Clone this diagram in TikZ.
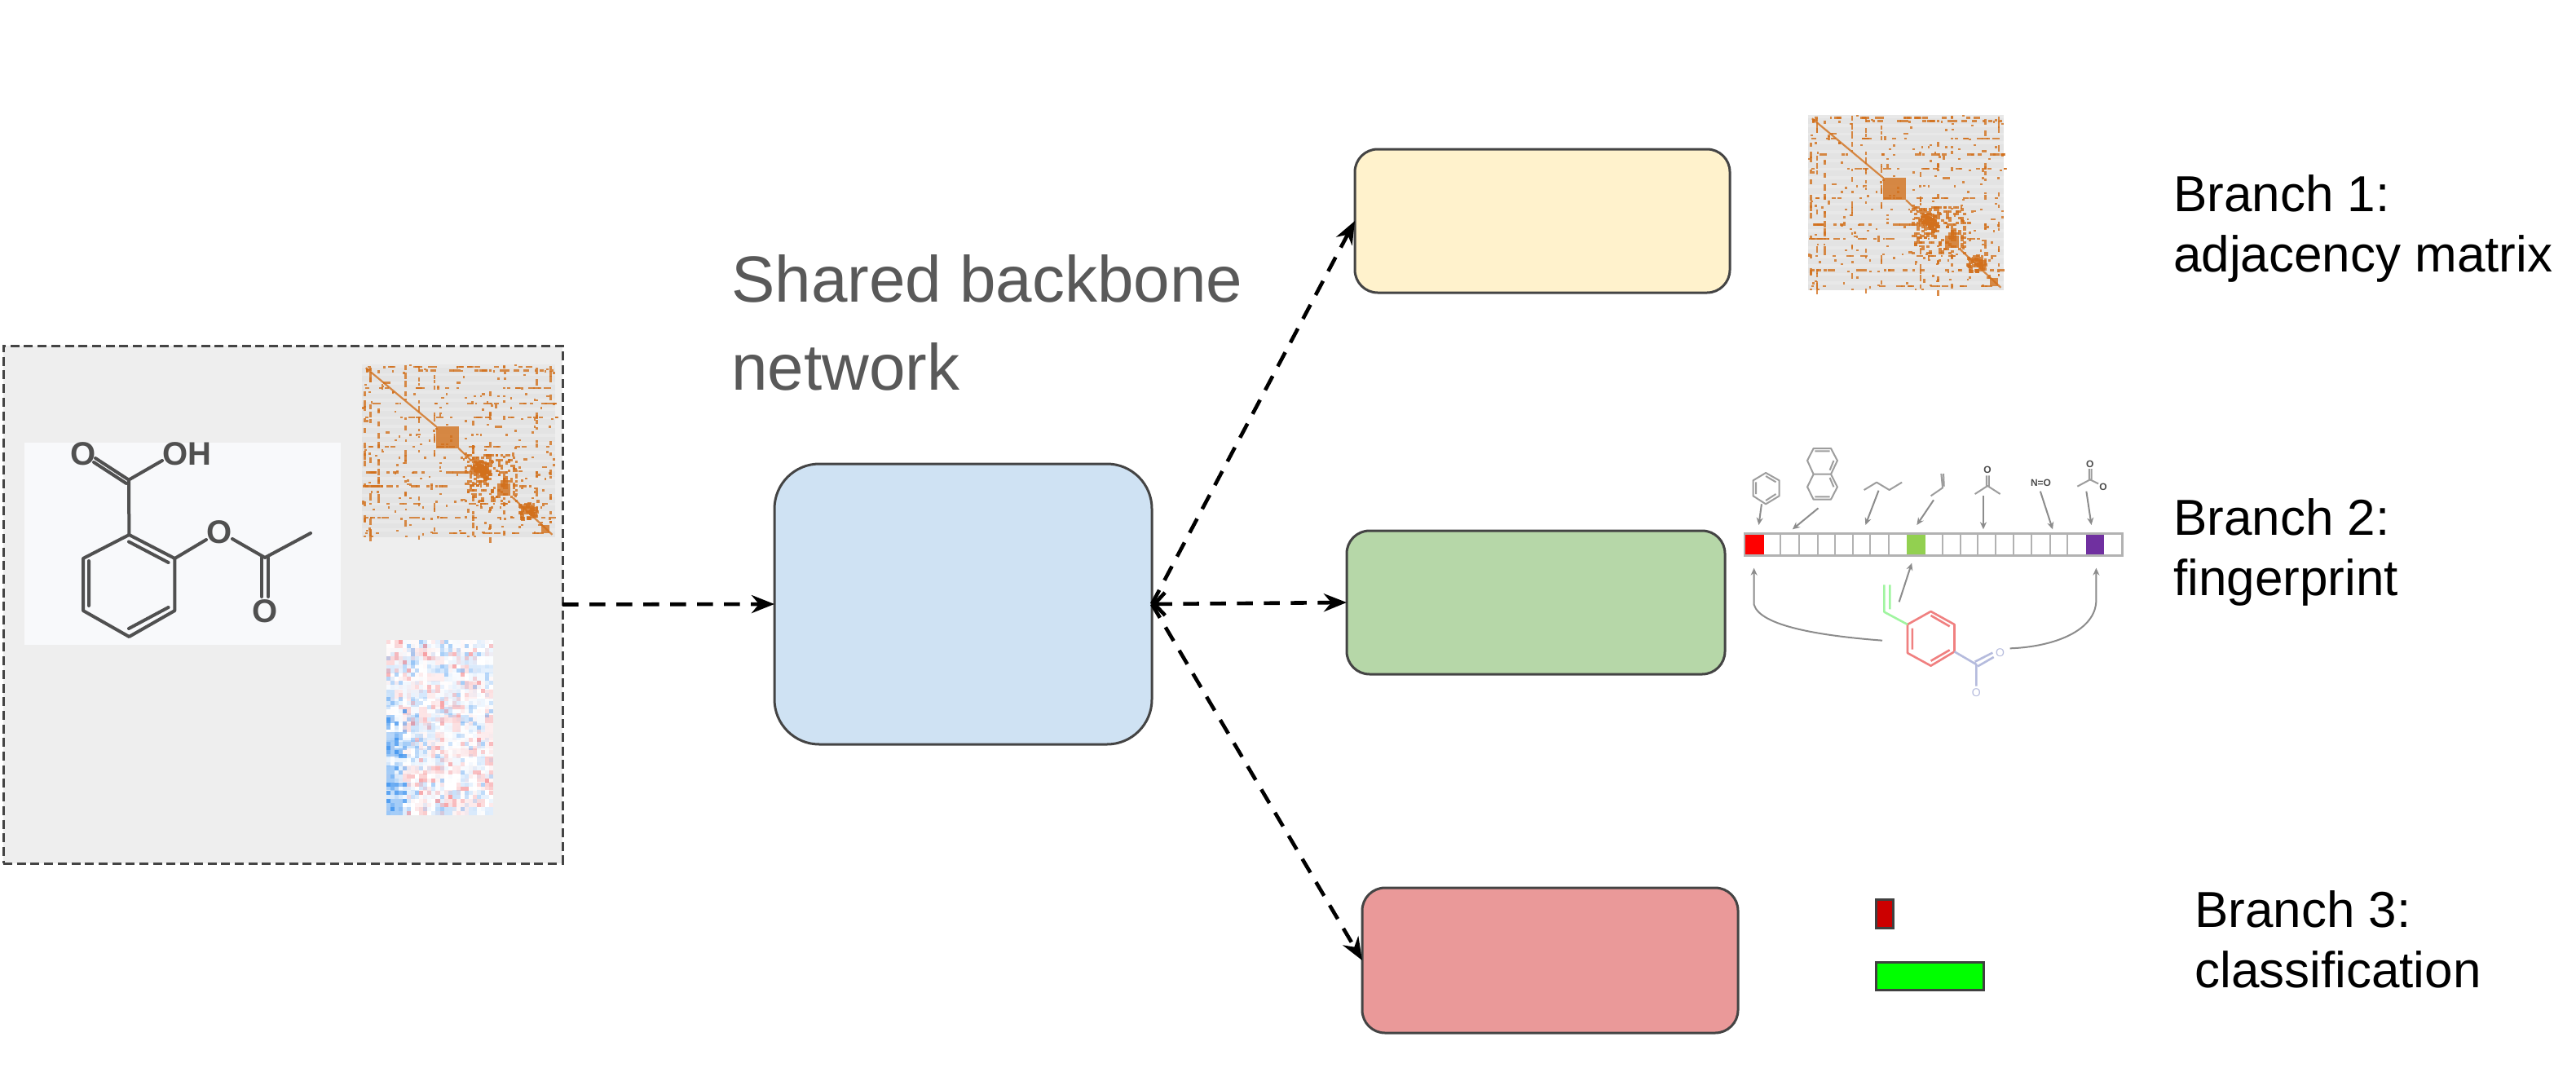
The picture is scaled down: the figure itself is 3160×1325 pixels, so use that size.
\documentclass[tikz,border=0pt]{standalone}
\usepackage{fontspec}
\setmainfont{Liberation Sans}
\usetikzlibrary{arrows.meta}
\definecolor{hred}{HTML}{EE3038}
\definecolor{hblue}{HTML}{2A88EE}
\definecolor{mato}{HTML}{D2701C}
\definecolor{ink}{HTML}{505050}
\definecolor{edge}{HTML}{444444}
\definecolor{fpg}{HTML}{8C8C8C}
\definecolor{bblue}{HTML}{CFE2F3}
\definecolor{byellow}{HTML}{FFF2CC}
\definecolor{bgreen}{HTML}{B6D7A8}
\definecolor{bred}{HTML}{EA9999}
\definecolor{labgrey}{HTML}{595959}
\definecolor{cred}{HTML}{CC0000}
\definecolor{cgreen}{HTML}{00FF00}
\definecolor{fpgreen}{HTML}{92D050}
\definecolor{fppurple}{HTML}{7030A0}
\definecolor{molred}{HTML}{F08080}
\definecolor{molgreen}{HTML}{A0F5A0}
\definecolor{molblue}{HTML}{B5BBDD}
\definecolor{panelw}{HTML}{F8F9FB}
\definecolor{panelg}{HTML}{EEEEEE}
\tikzset{
  mainbox/.style={draw=edge,line width=3pt,minimum width=#1,inner sep=0pt,outer sep=0pt},
  bigflow/.style={draw=black,line width=4.6pt,dash pattern=on 19.5pt off 13.5pt,-{Stealth[length=28pt,width=22pt,inset=9pt]}},
  atomlabel/.style={text=ink,font=\bfseries\fontsize{40}{40}\selectfont,inner sep=0pt},
  bondline/.style={draw=ink,line width=4pt,line cap=round,line join=round},
  branchlabel/.style={anchor=west,align=left,inner sep=0pt,font=\fontsize{62}{74}\selectfont},
  fparrow/.style={draw=fpg,line width=2pt,-{Stealth[length=9pt,width=8pt]}},
  fpglyph/.style={draw=fpg!85,line width=2pt,line join=round},
  fpatom/.style={inner sep=0pt,font=\bfseries\fontsize{12}{12}\selectfont},
  classbar/.style={draw=black!75,line width=3pt,inner sep=0pt,outer sep=0pt},
}
\newcommand{\adjmatrix}[4]{%
  \begin{scope}[shift={(#1,#2)},x=#3pt,y=-#4pt]
    \fill[black!11] (0,0) rectangle (1,1);
    \foreach \sy in {0,0.05,...,0.96}{\fill[white,opacity=.18] (0,\sy) rectangle (1,\sy+0.018);}
    \pgfmathsetseed{73}
    \begin{scope}[mato,opacity=.8]
      \foreach \ii in {1,...,120}{
        \pgfmathsetmacro\ax{floor(rnd*90)/90}
        \pgfmathsetmacro\ay{floor(rnd*90)/90}
        \fill (\ax,\ay) rectangle ++(.013,.011);
        \fill (\ay,\ax) rectangle ++(.011,.013);
      }
      % dense rows and columns
      \foreach \rowy in {.01,.03,.13,.22,.30,.47,.62,.70,.80,.88,.97}{
        \foreach \ii in {1,...,16}{
          \pgfmathsetmacro\ax{rnd}
          \pgfmathsetmacro\aw{.01+.03*rnd}
          \fill (\ax,\rowy) rectangle ++(\aw,.011);
        }
      }
      \foreach \colx in {.01,.04,.08,.22,.29,.37,.57,.66,.73,.90,.97}{
        \foreach \ii in {1,...,14}{
          \pgfmathsetmacro\ay{rnd}
          \pgfmathsetmacro\ah{.01+.03*rnd}
          \fill (\colx,\ay) rectangle ++(.011,\ah);
        }
      }
      % clusters
      \foreach \ii in {1,...,170}{
        \pgfmathsetmacro\ax{.53+floor(rnd*22)/80}
        \pgfmathsetmacro\ay{.52+floor(rnd*22)/80}
        \fill (\ax,\ay) rectangle ++(.014,.014);
      }
      \foreach \ii in {1,...,60}{
        \pgfmathsetmacro\ax{.55+(rnd+rnd)*.06}
        \pgfmathsetmacro\ay{.54+(rnd+rnd)*.06}
        \fill (\ax,\ay) rectangle ++(.02,.02);
      }
      \foreach \ii in {1,...,40}{
        \pgfmathsetmacro\ax{.79+(rnd+rnd)*.06}
        \pgfmathsetmacro\ay{.78+(rnd+rnd)*.06}
        \fill (\ax,\ay) rectangle ++(.02,.02);
      }
      \fill (.385,.36) rectangle (.50,.485);
      \fill (.70,.69) rectangle (.77,.76);
      \fill (.93,.93) rectangle (.97,.975);
      \draw[line width=2.2pt] (.02,.02) -- (.385,.36) (.5,.485) -- (.56,.55) (.78,.77) -- (.985,.985);
    \end{scope}
  \end{scope}}
\begin{document}
\begin{tikzpicture}[x=1pt,y=-1pt]
\useasboundingbox (0,0) rectangle (3160,1325);
\fill[white] (0,0) rectangle (3160,1325);

% input panel
\node[draw=edge,fill=panelg,line width=3pt,dash pattern=on 11pt off 5.7pt,minimum width=686pt,minimum height=635pt,inner sep=0pt,outer sep=0pt] (input) at (347,741.5) {};
\fill[panelw] (30,543) rectangle (418,791);

% molecule
\node[atomlabel] (oa) at (101.7,557) {O};
\node[atomlabel,anchor=west] (ob) at (199,557) {OH};
\node[atomlabel] (oc) at (269.5,653) {O};
\node[atomlabel] (od) at (325,750) {O};
\draw[bondline] (117,562) -- (157,588) (115,567) -- (155,593);
\draw[bondline] (199,565) -- (158,588.6) -- (158.4,656);
\draw[bondline] (158.4,656) -- (214.4,685) -- (214.4,749) -- (158.4,781) -- (102,749) -- (102,685) -- cycle;
\draw[bondline] (158,664.5) -- (206.6,690) (109,688) -- (109,743) (158,771) -- (206.6,745);
\draw[bondline] (214.4,685) -- (253,662) (285,661) -- (325,684) -- (381,654);
\draw[bondline] (321,684) -- (321,732) (329,684) -- (329,732);

\adjmatrix{444}{447}{237}{212}

% heat map
\begin{scope}
  \pgfmathsetseed{11}
  \fill[white] (474,785) rectangle (605,1000);
  \foreach \rr in {0,...,20}{\foreach \cc in {0,...,12}{
    \pgfmathsetmacro\hv{(2*rnd-1)+((\cc<2 && \rr>8) ? -1.0 : 0)}
    \pgfmathtruncatemacro\hp{min(42,24*abs(\hv)^2)}
    \ifdim\hv pt>0pt \def\hc{hred}\else\def\hc{hblue}\fi
    \fill[\hc!\hp!white] ({474+\cc*10.08},{785+\rr*10.24}) rectangle ++(10.08,10.24);
  }}
  \foreach \rr in {0,...,42}{\foreach \cc in {0,...,25}{
    \pgfmathsetmacro\hv{(2*rnd-1)+((\cc<5 && \rr>16) ? -0.45 : 0)}
    \pgfmathsetmacro\hp{min(.7,.4*abs(\hv)^4)}
    \ifdim\hv pt>0pt \def\hc{hred}\else\def\hc{hblue}\fi
    \fill[\hc,opacity=\hp] ({474+\cc*5.04},{785+\rr*5}) rectangle ++(5.04,5);
  }}
\end{scope}

% main boxes
\node[mainbox=463pt,minimum height=344pt,rounded corners=55pt,fill=bblue] (backbone) at (1181.5,741) {};
\node[mainbox=460pt,minimum height=176pt,rounded corners=28pt,fill=byellow] (yellowbox) at (1892,271) {};
\node[mainbox=464pt,minimum height=176pt,rounded corners=28pt,fill=bgreen] (greenbox) at (1884,739) {};
\node[mainbox=461pt,minimum height=178pt,rounded corners=28pt,fill=bred] (redbox) at (1901.5,1178) {};

% flows
\draw[bigflow] (input.east) -- (backbone.west);
\draw[bigflow,{Straight Barb[length=13pt,width=28pt,line width=4.6pt]}-{Stealth[length=28pt,width=22pt,inset=9pt]}] (backbone.east) -- (greenbox.west);
\draw[bigflow] (backbone.east) -- (yellowbox.west);
\draw[bigflow] (backbone.east) -- (redbox.west);

% labels
\node[text=labgrey,anchor=west,align=left,inner sep=0pt,font=\fontsize{80}{108}\selectfont] (sharedlabel) at (897,396) {Shared backbone\\network};
\node[branchlabel] (b1) at (2666,280) {Branch 1:\\adjacency matrix};
\node[branchlabel] (b2) at (2666,677) {Branch 2:\\fingerprint};
\node[branchlabel] (b3) at (2692,1152) {Branch 3:\\classification};

\adjmatrix{2218}{141}{240}{215}

% class bars
\node[classbar,fill=cred,minimum width=21pt,minimum height=35pt] (redbar) at (2311.5,1120.5) {};
\node[classbar,fill=cgreen,minimum width=132pt,minimum height=34pt] (greenbar) at (2367,1197) {};

% fingerprint, in the crop's own units
\begin{scope}[shift={(2080,520)},x=0.34435pt,y=-0.33333pt]
  \fill[red] (175,403) rectangle (243,484);
  \fill[fpgreen] (752,403) rectangle (818,484);
  \fill[fppurple] (1390,403) rectangle (1455,484);
  \draw[draw=black!30,line width=2.4pt] (175,403) rectangle (1520,484);
  \foreach \gx in {303,368,435,497,560,622,687,880,943,1005,1068,1132,1197,1262,1325}{
    \draw[draw=black!30,line width=2pt] (\gx,403) -- (\gx,484);
  }
  % substructures
  \draw[fpglyph] (250,180) -- (298,208) -- (298,265) -- (250,295) -- (205,265) -- (205,208) -- cycle (250,192) -- (286,214) (286,258) -- (250,282) (215,258) -- (215,214);
  \draw[fpglyph] (420,90) -- (482,90) -- (505,135) -- (482,185) -- (505,232) -- (482,278) -- (420,278) -- (398,232) -- (420,185) -- (398,135) -- cycle (420,185) -- (482,185) (425,100) -- (478,100) (492,135) -- (478,170) (425,268) -- (478,268) (492,232) -- (478,198);
  \draw[fpglyph] (600,243) -- (645,215) -- (690,243) -- (735,215);
  \draw[fpglyph] (838,265) -- (880,235) -- (875,183) (885,230) -- (883,183);
  \draw[fpglyph] (1036,190) -- (1036,228) (1045,190) -- (1045,228) (995,258) -- (1040,228) -- (1085,258);
  \draw[fpglyph] (1402,165) -- (1402,205) (1410,165) -- (1410,205) (1360,230) -- (1405,205) -- (1435,220);
  \node[fpatom,text=black!70] (fa) at (1040,170) {O};
  \node[fpatom,text=black!70] (fb) at (1230,217) {N=O};
  \node[fpatom,text=black!70] (fc) at (1405,148) {O};
  \node[fpatom,text=black!70] (fd) at (1452,232) {O};
  % arrows to bits
  \draw[fparrow] (235,295) -- (225,372);
  \draw[fparrow] (437,310) -- (345,388);
  \draw[fparrow] (652,245) -- (605,372);
  \draw[fparrow] (848,280) -- (788,372);
  \draw[fparrow] (1025,265) -- (1025,388);
  \draw[fparrow] (1228,248) -- (1272,388);
  \draw[fparrow] (1392,248) -- (1410,372);
  \draw[fparrow] (725,655) -- (770,512);
  \draw[fparrow] (665,797) .. controls (450,780) and (230,745) .. (208,665) -- (208,530);
  \draw[fparrow] (1120,826) .. controls (1280,820) and (1425,760) .. (1427,650) -- (1427,530);
  % coloured molecule
  \begin{scope}[line width=2.6pt,line join=round]
    \draw[draw=molred] (838,690) -- (922,738) -- (922,838) -- (838,890) -- (755,843) -- (755,738) -- cycle (838,705) -- (905,745) (772,752) -- (772,830) (838,872) -- (905,832);
    \draw[draw=molgreen] (755,738) -- (672,692) -- (672,592) (692,682) -- (692,592);
    \draw[draw=molblue] (922,838) -- (1000,885) -- (1000,965) (995,875) -- (1058,842) (1005,892) -- (1062,858);
  \end{scope}
  \node[inner sep=0pt,text=molblue,font=\fontsize{14}{14}\selectfont] (fe) at (1085,842) {O};
  \node[inner sep=0pt,text=molblue,font=\fontsize{14}{14}\selectfont] (ff) at (1000,990) {O};
\end{scope}
\end{tikzpicture}
\end{document}
